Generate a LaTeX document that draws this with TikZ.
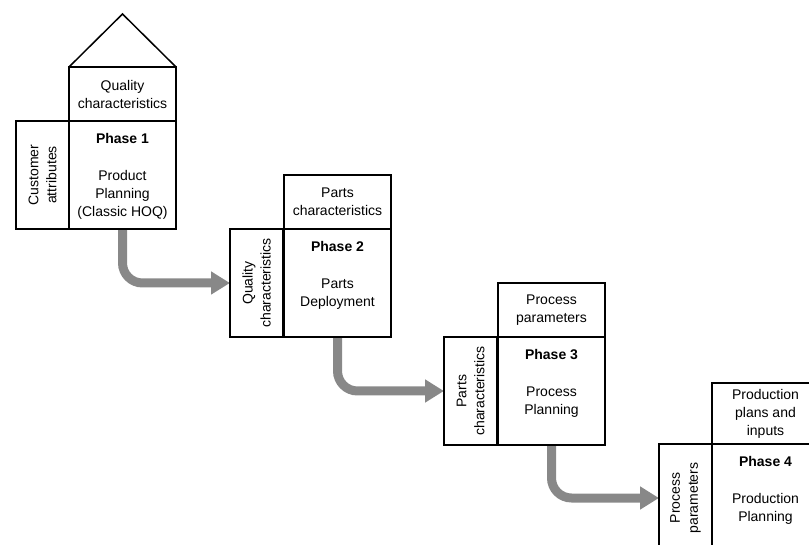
\documentclass[tikz,border=0pt]{standalone}
\usepackage{fontspec}
\setmainfont{Liberation Sans}
\usetikzlibrary{arrows.meta,backgrounds}
\definecolor{flowgray}{RGB}{136,136,136}
\tikzset{
  boxst/.style={draw, line width=1.5pt, inner sep=0pt, outer sep=0pt, anchor=north west},
  topbox/.style={boxst, minimum width=107pt, minimum height=54pt, align=center,
    font=\fontsize{14}{18}\selectfont},
  mainbox/.style={boxst, minimum width=107pt, minimum height=108pt},
  sidebox/.style={boxst, minimum width=53pt, minimum height=108pt},
  sidetext/.style={rotate=90, align=center, inner sep=0pt, font=\fontsize{14}{18}\selectfont},
  phasetext/.style={anchor=north, align=center, inner sep=0pt, font=\fontsize{14}{18}\selectfont},
  roofline/.style={line width=1.5pt, line join=miter},
  flowarrow/.style={draw=flowgray, line width=9pt, rounded corners=20pt,
    -{Triangle[length=19pt,width=22pt]}}
}
\begin{document}
\begin{tikzpicture}[x=1pt,y=-1pt]
\clip (0,0) rectangle (809,545);

% Phase 1: house of quality with roof
\node[topbox] (t1) at (69,67) {Quality\\characteristics};
\node[mainbox] (m1) at (69,121) {};
\node[sidebox] (s1) at (16,121) {};
\coordinate (apex1) at (122.5,14);
\draw[roofline] (t1.north west) -- (apex1) -- (t1.north east);
\node[sidetext] (st1) at (s1.center) {Customer\\attributes};
\node[phasetext] (p1) at ([yshift=-12pt]m1.north) {\textbf{Phase 1}\\[19pt]Product\\Planning\\(Classic HOQ)};

% Phase 2
\node[topbox] (t2) at (284,175) {Parts\\characteristics};
\node[mainbox] (m2) at (284,229) {};
\node[sidebox] (s2) at (230,229) {};
\node[sidetext] (st2) at (s2.center) {Quality\\characteristics};
\node[phasetext] (p2) at ([yshift=-12pt]m2.north) {\textbf{Phase 2}\\[19pt]Parts\\Deployment};

% Phase 3
\node[topbox] (t3) at (498,283) {Process\\parameters};
\node[mainbox] (m3) at (498,337) {};
\node[sidebox] (s3) at (444,337) {};
\node[sidetext] (st3) at (s3.center) {Parts\\characteristics};
\node[phasetext] (p3) at ([yshift=-12pt]m3.north) {\textbf{Phase 3}\\[19pt]Process\\Planning};

% Phase 4
\node[topbox, minimum height=61pt] (t4) at (712,383) {Production\\plans and\\inputs};
\node[mainbox] (m4) at (712,444) {};
\node[sidebox] (s4) at (659,444) {};
\node[sidetext] (st4) at (s4.center) {Process\\parameters};
\node[phasetext] (p4) at ([yshift=-12pt]m4.north) {\textbf{Phase 4}\\[19pt]Production\\Planning};

% Flow between phases
\begin{scope}[on background layer]
  \draw[flowarrow] (m1.south) |- (s2.west);
  \draw[flowarrow] (m2.south) |- (s3.west);
  \draw[flowarrow] (m3.south) |- (s4.west);
\end{scope}
\end{tikzpicture}
\end{document}
